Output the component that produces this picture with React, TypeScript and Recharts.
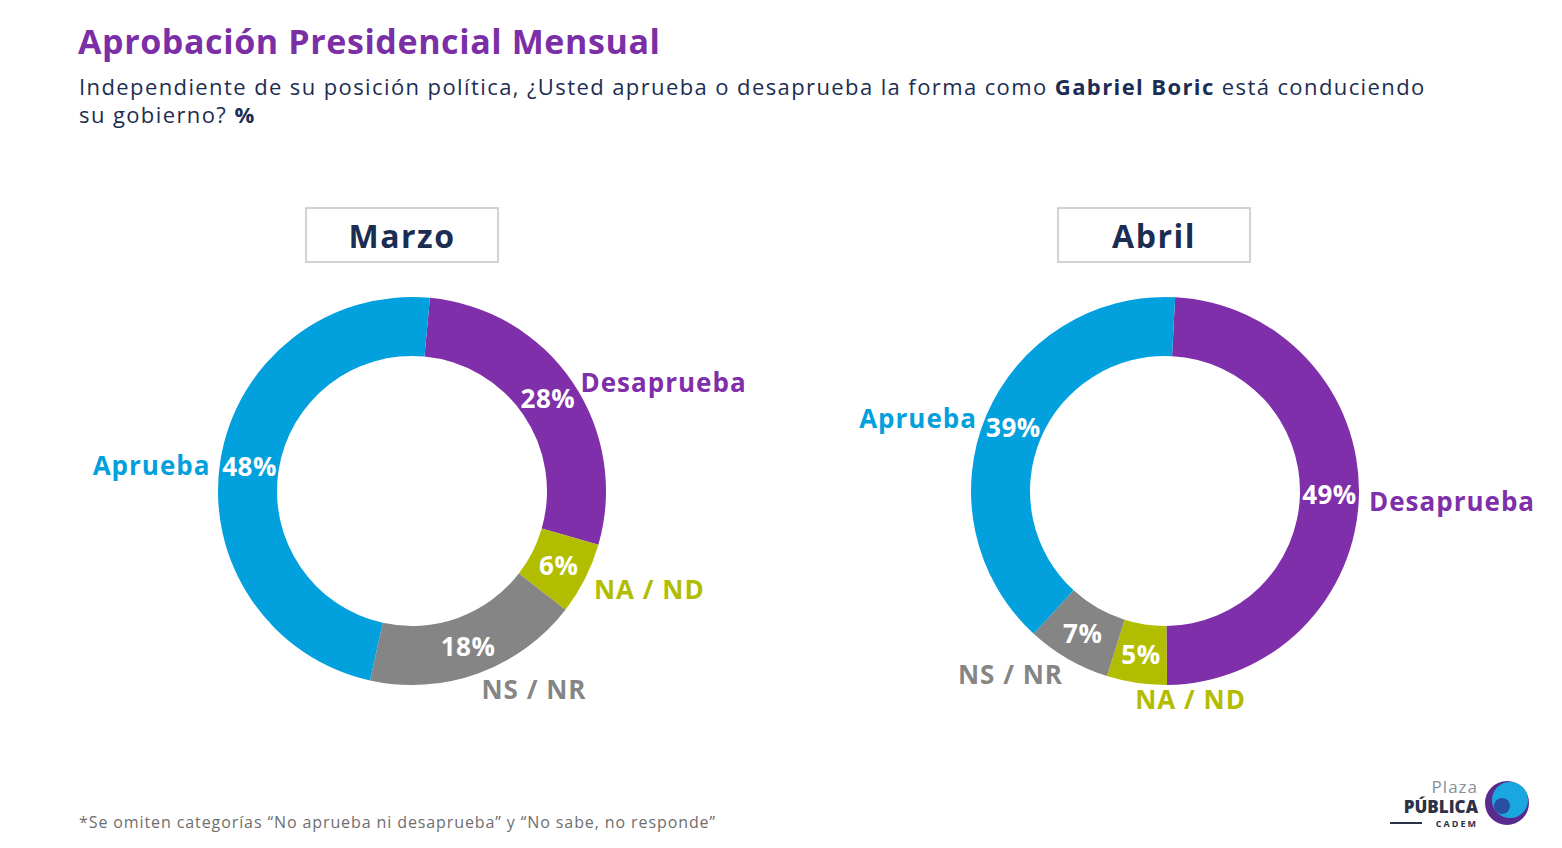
import React from "react";
import { PieChart, Pie, Cell } from "recharts";

const CATEGORIES = ["Desaprueba", "NA / ND", "NS / NR", "Aprueba"];
const MARZO_VALUES = [28, 6, 18, 48];
const ABRIL_VALUES = [49, 5, 7, 39];
const MONTHS = ["Marzo", "Abril"];

const COLORS: Record<string, string> = {
  Desaprueba: "#7F2FA9",
  "NA / ND": "#B3BD00",
  "NS / NR": "#858585",
  Aprueba: "#03A0DE",
};

const NAVY = "#1C2D52";
const PURPLE = "#7B2FA6";
const FONT = "'Open Sans', 'Noto Sans', sans-serif";
const RADIAN = Math.PI / 180;

const W = 1562;
const H = 848;
const CY = 491;
const OUTER = 194;
const INNER = 135;
const NO_MARGIN = { top: 0, right: 0, bottom: 0, left: 0 };

const marzo = CATEGORIES.map((name, i) => ({ name, value: MARZO_VALUES[i] }));
const abril = CATEGORIES.map((name, i) => ({ name, value: ABRIL_VALUES[i] }));

// Value sits in the middle of the ring, the category name just outside it.
function DonutLabel(props: any): React.ReactElement {
  const { cx, cy, midAngle, innerRadius, outerRadius, value, name } = props;
  const cos = Math.cos(-midAngle * RADIAN);
  const sin = Math.sin(-midAngle * RADIAN);
  const mid = (innerRadius + outerRadius) / 2;
  const r = outerRadius + 10;
  const anchor = cos >= -0.2 ? "start" : "end";
  return (
    <g style={{ fontFamily: FONT, fontWeight: 700 }}>
      <text
        x={cx + mid * cos}
        y={cy + mid * sin}
        fill="#fff"
        fontSize={26}
        letterSpacing={0.5}
        textAnchor="middle"
        dominantBaseline="central"
      >
        {value}%
      </text>
      <text
        x={cx + r * cos}
        y={cy + r * sin + 6}
        fill={COLORS[name]}
        fontSize={26}
        letterSpacing={1}
        textAnchor={anchor}
        dominantBaseline="central"
      >
        {name}
      </text>
    </g>
  );
}

function MonthBox({ label, x }: { label: string; x: number }): React.ReactElement {
  return (
    <div
      style={{
        position: "absolute",
        left: x,
        top: 207,
        width: 190,
        height: 52,
        border: "2px solid #d2d2d2",
        display: "flex",
        alignItems: "center",
        justifyContent: "center",
        fontFamily: FONT,
        fontWeight: 700,
        fontSize: 32,
        letterSpacing: 1.5,
        color: NAVY,
      }}
    >
      {label}
    </div>
  );
}

function Logo(): React.ReactElement {
  return (
    <svg
      width={160}
      height={70}
      style={{ position: "absolute", left: 1380, top: 770 }}
    >
      <text x={98} y={23} textAnchor="end" fontFamily={FONT} fontSize={17} letterSpacing={1} fill="#8a8f9c">
        Plaza
      </text>
      <text x={98} y={43} textAnchor="end" fontFamily={FONT} fontWeight={800} fontSize={17} fill="#2b3146">
        PÚBLICA
      </text>
      <line x1={10} y1={53} x2={42} y2={53} stroke="#2b3146" strokeWidth={2} />
      <text x={98} y={57} textAnchor="end" fontFamily={FONT} fontWeight={700} fontSize={9} letterSpacing={2} fill="#2b3146">
        CADEM
      </text>
      <circle cx={127} cy={33} r={22} fill="#5a2b8f" />
      <circle cx={130} cy={30} r={18} fill="#1aa7e0" />
      <circle cx={122} cy={36} r={8} fill="#2a4fa0" />
    </svg>
  );
}

export default function App(): React.ReactElement {
  return (
    <div
      style={{
        position: "absolute",
        left: 0,
        top: 0,
        width: W,
        height: H,
        background: "#fff",
        fontFamily: FONT,
        overflow: "hidden",
      }}
    >
      <div
        style={{
          position: "absolute",
          left: 78,
          top: 18,
          fontSize: 34,
          fontWeight: 700,
          letterSpacing: 0.6,
          color: PURPLE,
          whiteSpace: "nowrap",
        }}
      >
        Aprobación Presidencial Mensual
      </div>
      <div
        style={{
          position: "absolute",
          left: 79,
          top: 72,
          width: 1440,
          fontSize: 22,
          letterSpacing: 1.4,
          lineHeight: "28px",
          color: NAVY,
        }}
      >
        Independiente de su posición política, ¿Usted aprueba o desaprueba la forma como{" "}
        <b>Gabriel Boric</b> está conduciendo
        <br />
        su gobierno? <b>%</b>
      </div>

      <MonthBox label={MONTHS[0]} x={305} />
      <MonthBox label={MONTHS[1]} x={1057} />

      <div style={{ position: "absolute", left: 0, top: 0 }}>
        <PieChart width={W} height={H} margin={NO_MARGIN}>
          <Pie
            data={marzo}
            dataKey="value"
            nameKey="name"
            cx={412}
            cy={CY}
            innerRadius={INNER}
            outerRadius={OUTER}
            startAngle={84.7}
            endAngle={84.7 - 360}
            stroke="none"
            label={DonutLabel}
            labelLine={false}
            isAnimationActive={false}
          >
            {marzo.map((d) => (
              <Cell key={d.name} fill={COLORS[d.name]} />
            ))}
          </Pie>
          <Pie
            data={abril}
            dataKey="value"
            nameKey="name"
            cx={1165}
            cy={CY}
            innerRadius={INNER}
            outerRadius={OUTER}
            startAngle={87}
            endAngle={87 - 360}
            stroke="none"
            label={DonutLabel}
            labelLine={false}
            isAnimationActive={false}
          >
            {abril.map((d) => (
              <Cell key={d.name} fill={COLORS[d.name]} />
            ))}
          </Pie>
        </PieChart>
      </div>

      <div
        style={{
          position: "absolute",
          left: 79,
          top: 811,
          fontSize: 16,
          letterSpacing: 0.9,
          color: "#6e6e6e",
          whiteSpace: "nowrap",
        }}
      >
        *Se omiten categorías “No aprueba ni desaprueba” y “No sabe, no responde”
      </div>
      <Logo />
    </div>
  );
}
